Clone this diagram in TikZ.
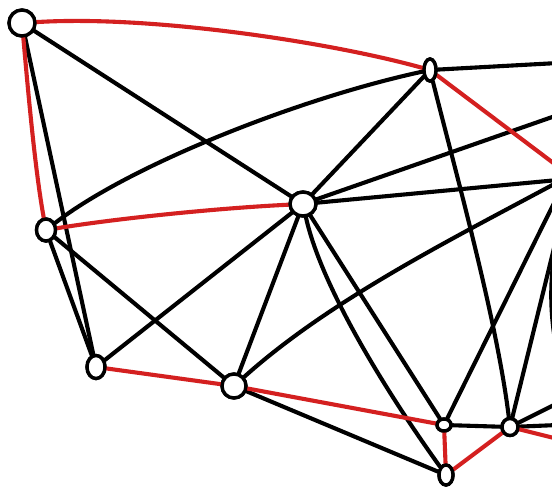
\documentclass[tikz,border=0pt]{standalone}
\usetikzlibrary{shapes.geometric}
\definecolor{edgered}{RGB}{212,32,32}
\tikzset{
  vtx/.style={ellipse, draw=black, fill=white, line width=3.4pt, inner sep=0pt},
  blk/.style={draw=black, line width=4.1pt, line cap=round},
  rd/.style={draw=edgered, line width=4.1pt, line cap=round},
}
\begin{document}
\begin{tikzpicture}[x=1pt, y=-1pt]
\useasboundingbox (0,0) rectangle (552,488);
\clip (0,0) rectangle (552,488);
\fill[white] (0,0) rectangle (552,488);
% free ends at the right border
\coordinate (rB) at (558,63);
\coordinate (rBr) at (560,168);
\coordinate (rD1) at (558,115);
\coordinate (rD2) at (558,180);
\coordinate (rF) at (558,182);
\coordinate (rG) at (558,195);
\coordinate (rI0) at (556,240);
\coordinate (rI1) at (558,403);
\coordinate (rI2) at (558,425);
\coordinate (rIr) at (558,439);
\coordinate (rs1) at (555,250);
\coordinate (rs2) at (555,340);
% nodes
\node[vtx, minimum width=26pt, minimum height=26pt] (A) at (22,23) {};
\node[vtx, minimum width=12pt, minimum height=22pt] (B) at (430,70) {};
\node[vtx, minimum width=19pt, minimum height=22pt] (C) at (46,230) {};
\node[vtx, minimum width=26pt, minimum height=24pt] (D) at (303,204) {};
\node[vtx, minimum width=18pt, minimum height=23pt] (E) at (96,367) {};
\node[vtx, minimum width=24pt, minimum height=24pt] (F) at (234,386) {};
\node[vtx, minimum width=14pt, minimum height=12pt] (G) at (444,425) {};
\node[vtx, minimum width=14pt, minimum height=20pt] (H) at (446,475) {};
\node[vtx, minimum width=16pt, minimum height=17pt] (I) at (510,427) {};
% black edges
\path[blk] (A) -- (D);
\path[blk] (A) -- (E);
\path[blk] (C) .. controls (130,165) and (300,98) .. (B);
\path[blk] (C) -- (E);
\path[blk] (C) -- (F);
\path[blk] (E) -- (D);
\path[blk] (D) -- (B);
\path[blk] (D) -- (rD1);
\path[blk] (D) -- (rD2);
\path[blk] (D) -- (F);
\path[blk] (D) -- (G);
\path[blk] (D) .. controls (322,290) and (392,400) .. (H);
\path[blk] (F) -- (H);
\path[blk] (F) .. controls (330,300) and (450,240) .. (rF);
\path[blk] (B) -- (rB);
\path[blk] (B) .. controls (455,170) and (497,320) .. (I);
\path[blk] (G) -- (I);
\path[blk] (G) -- (rG);
\path[blk] (rI0) -- (I);
\path[blk] (I) -- (rI1);
\path[blk] (I) -- (rI2);
\path[blk] (rs1) .. controls (550,280) and (550,310) .. (rs2);
% red edges
\path[rd] (A) .. controls (150,15) and (330,42) .. (B);
\path[rd] (A) .. controls (28,90) and (35,170) .. (C);
\path[rd] (C) .. controls (120,218) and (220,208) .. (D);
\path[rd] (B) -- (rBr);
\path[rd] (E) -- (F);
\path[rd] (F) -- (G);
\path[rd] (G) -- (H);
\path[rd] (H) -- (I);
\path[rd] (I) -- (rIr);
% redraw nodes on top
\node[vtx, minimum width=26pt, minimum height=26pt] at (A) {};
\node[vtx, minimum width=12pt, minimum height=22pt] at (B) {};
\node[vtx, minimum width=19pt, minimum height=22pt] at (C) {};
\node[vtx, minimum width=26pt, minimum height=24pt] at (D) {};
\node[vtx, minimum width=18pt, minimum height=23pt] at (E) {};
\node[vtx, minimum width=24pt, minimum height=24pt] at (F) {};
\node[vtx, minimum width=14pt, minimum height=12pt] at (G) {};
\node[vtx, minimum width=14pt, minimum height=20pt] at (H) {};
\node[vtx, minimum width=16pt, minimum height=17pt] at (I) {};
\end{tikzpicture}
\end{document}
